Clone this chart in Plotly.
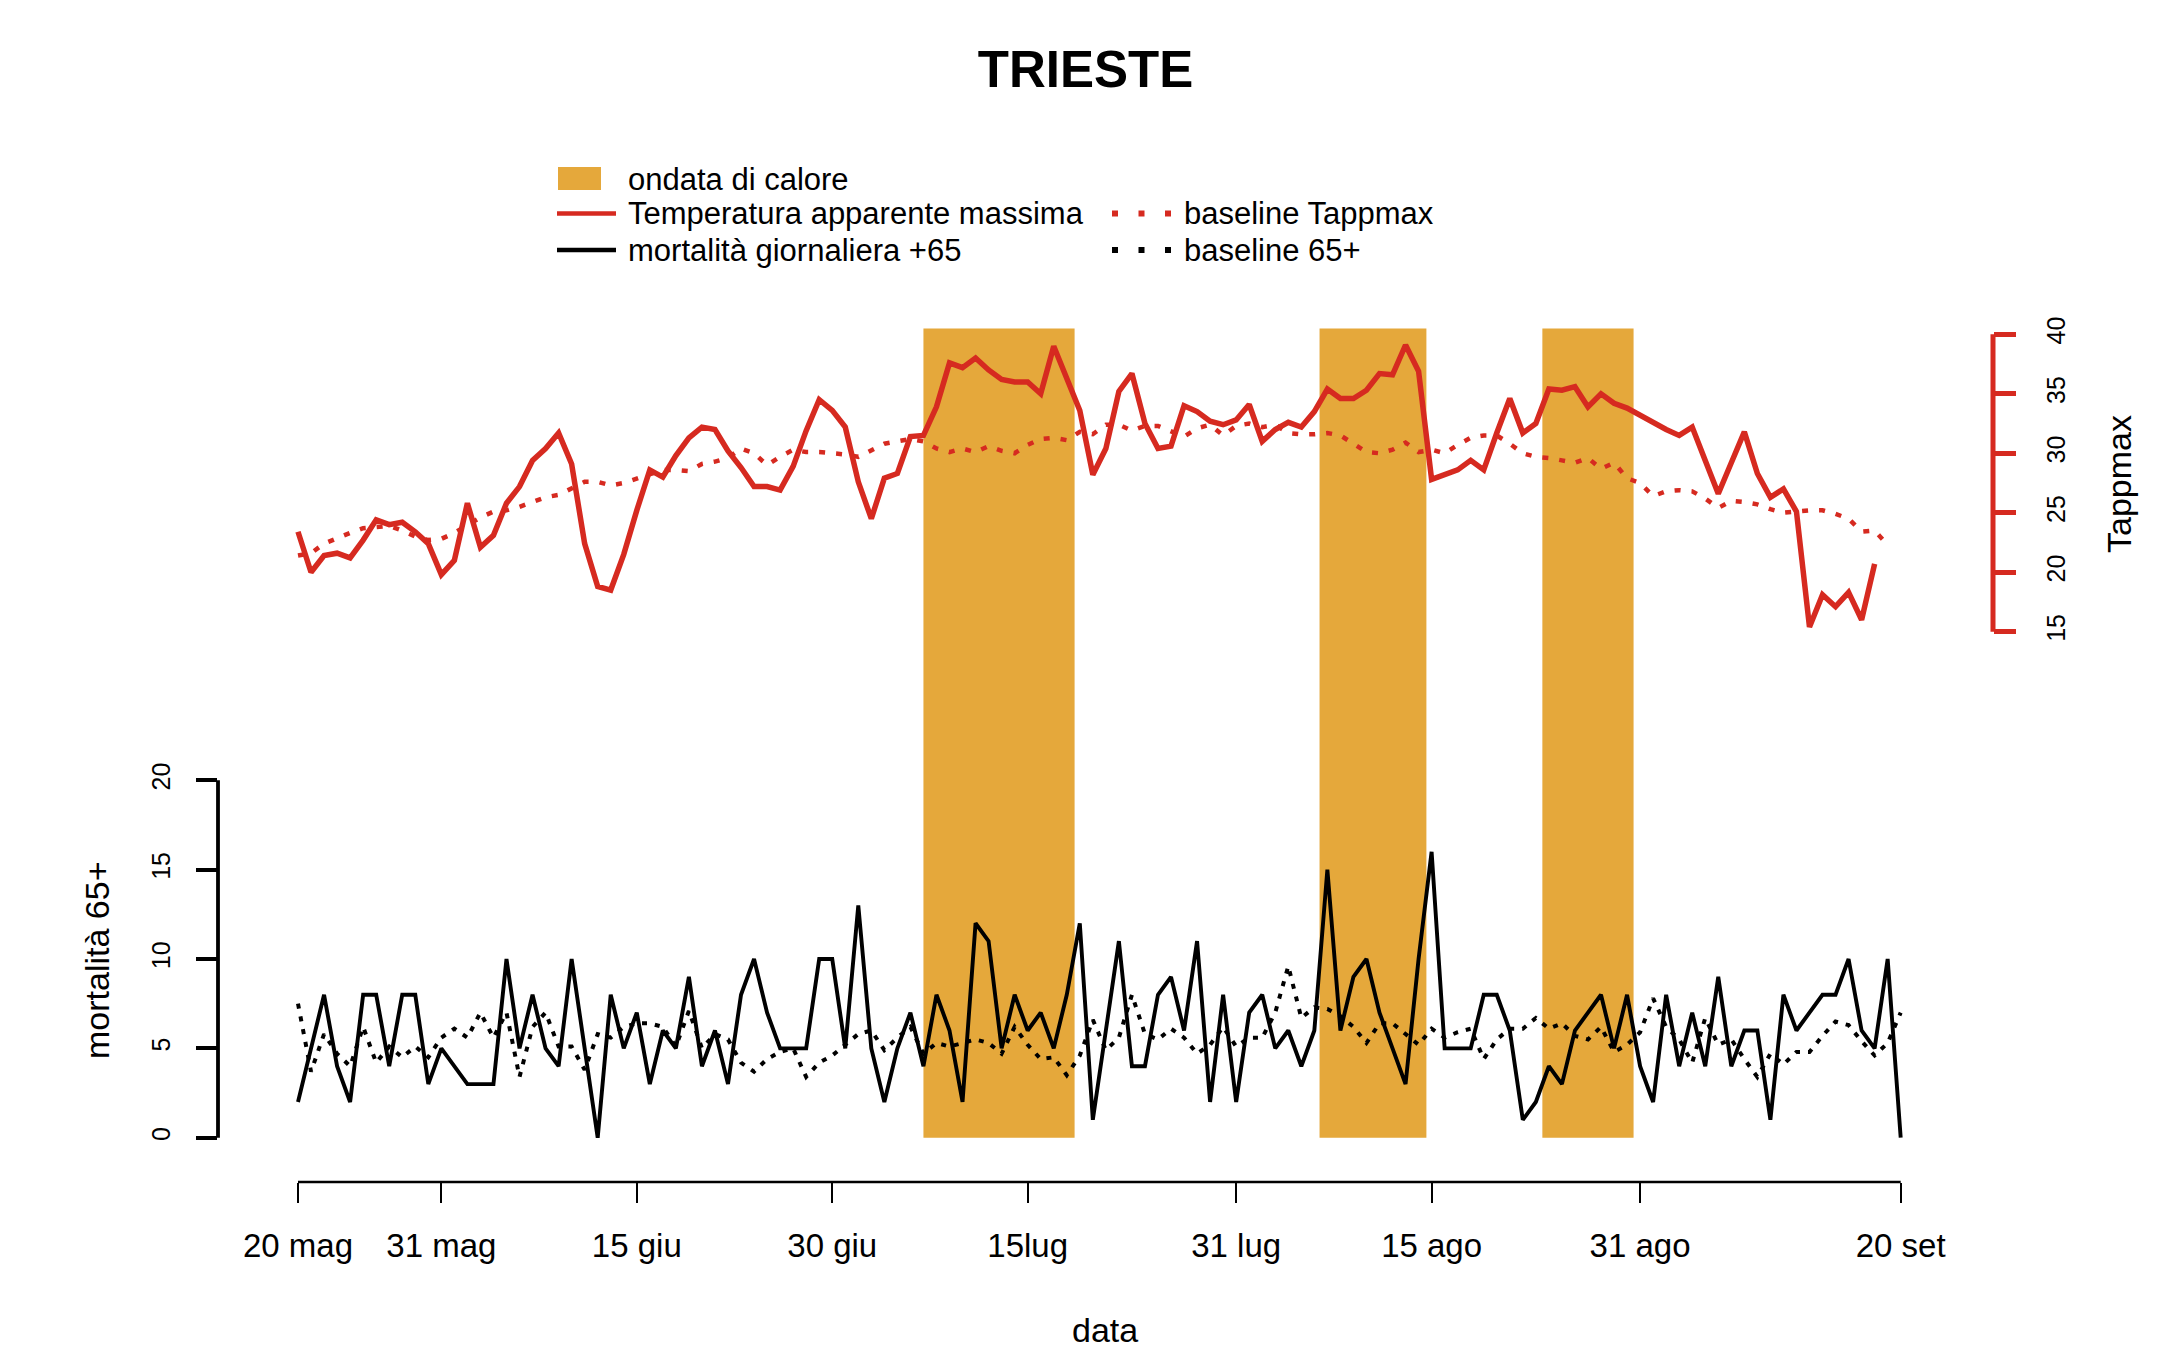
import pandas as pd
import plotly.graph_objects as go

# ---------------- data ----------------
start_date = "2015-05-20"

mortality_65 = [2, 5, 8, 4, 2, 8, 8, 4, 8, 8,
                3, 5, 4, 3, 3, 3, 10, 5, 8, 5,
                4, 10, 5, 0, 8, 5, 7, 3, 6, 5,
                9, 4, 6, 3, 8, 10, 7, 5, 5, 5,
                10, 10, 5, 13, 5, 2, 5, 7, 4, 8,
                6, 2, 12, 11, 5, 8, 6, 7, 5, 8,
                12, 1, 6, 11, 4, 4, 8, 9, 6, 11,
                2, 8, 2, 7, 8, 5, 6, 4, 6, 15,
                6, 9, 10, 7, 5, 3, 10, 16, 5, 5,
                5, 8, 8, 6, 1, 2, 4, 3, 6, 7,
                8, 5, 8, 4, 2, 8, 4, 7, 4, 9,
                4, 6, 6, 1, 8, 6, 7, 8, 8, 10,
                6, 5, 10, 0]

baseline_65 = [7.5, 3.7, 5.8, 4.7, 4.0, 6.2, 4.2, 5.1, 4.5, 5.1,
               4.5, 5.6, 6.1, 5.6, 7.0, 5.6, 7.0, 3.4, 6.2, 7.0,
               5.1, 5.1, 3.8, 5.8, 5.6, 6.2, 6.4, 6.4, 6.2, 5.1,
               7.1, 5.0, 5.8, 5.5, 4.2, 3.7, 4.4, 4.8, 5.0, 3.4,
               4.2, 4.6, 5.2, 5.8, 6.0, 4.9, 5.6, 6.2, 4.7, 5.3,
               5.1, 5.3, 5.5, 5.3, 4.7, 6.2, 5.2, 4.4, 4.5, 3.5,
               4.6, 6.6, 4.9, 5.6, 8.0, 5.8, 5.5, 6.1, 5.6, 4.7,
               5.2, 6.2, 5.1, 5.6, 5.6, 7.0, 9.6, 6.7, 7.3, 7.2,
               6.8, 6.2, 5.3, 6.4, 6.4, 5.8, 5.2, 6.1, 5.6, 5.9,
               6.1, 4.4, 5.5, 6.1, 6.1, 6.7, 6.1, 6.4, 5.7, 5.5,
               6.2, 4.8, 5.2, 5.9, 7.8, 6.2, 5.5, 4.2, 6.7, 5.2,
               5.5, 4.4, 3.4, 4.7, 4.1, 4.8, 4.8, 5.7, 6.5, 6.3,
               5.4, 4.6, 5.3, 7.0]

tappmax = [23.4, 20.0, 21.4, 21.6, 21.2, 22.7, 24.4, 24.0, 24.2, 23.4,
           22.4, 19.8, 21.0, 25.8, 22.1, 23.1, 25.8, 27.2, 29.4, 30.4,
           31.7, 29.1, 22.4, 18.8, 18.5, 21.5, 25.2, 28.6, 28.0, 29.8,
           31.3, 32.2, 32.0, 30.2, 28.8, 27.2, 27.2, 26.9, 28.9, 31.9,
           34.5, 33.6, 32.2, 27.6, 24.5, 27.9, 28.3, 31.4, 31.5, 33.9,
           37.6, 37.2, 38.0, 37.0, 36.2, 36.0, 36.0, 35.0, 39.0, 36.4,
           33.6, 28.2, 30.4, 35.2, 36.7, 32.5, 30.4, 30.6, 34.0, 33.5,
           32.7, 32.4, 32.8, 34.1, 31.0, 32.0, 32.6, 32.2, 33.5, 35.4,
           34.6, 34.6, 35.3, 36.7, 36.6, 39.1, 36.9, 27.8, 28.2, 28.6,
           29.4, 28.6, 31.7, 34.6, 31.7, 32.5, 35.4, 35.3, 35.6, 33.9,
           35.0, 34.2, 33.8, 33.2, 32.5, 32.0, 31.5, 32.2, 29.4, 26.6,
           29.2, 31.8, 28.3, 26.3, 27.0, 25.1, 15.4, 18.1, 17.1, 18.3,
           16.0, 20.7]

baseline_tappmax = [21.4, 21.6, 22.4, 22.9, 23.3, 23.7, 23.8, 23.9, 23.5, 23.0,
                    22.7, 22.8, 23.3, 24.0, 24.6, 25.1, 25.2, 25.5, 25.9, 26.3,
                    26.5, 27.0, 27.6, 27.6, 27.3, 27.5, 27.9, 28.3, 28.6, 28.6,
                    28.5, 29.1, 29.3, 29.6, 30.4, 30.0, 29.0, 29.7, 30.3, 30.1,
                    30.1, 30.0, 29.9, 29.7, 30.3, 30.8, 31.0, 31.2, 31.0, 30.4,
                    30.1, 30.4, 30.1, 30.6, 30.2, 30.0, 30.7, 31.2, 31.3, 31.1,
                    31.8, 31.6, 32.4, 32.4, 31.9, 32.3, 32.3, 31.8, 31.4, 32.1,
                    32.4, 31.5, 32.3, 32.5, 32.2, 32.4, 31.7, 31.6, 31.6, 31.7,
                    31.5, 30.8, 30.1, 30.0, 30.3, 30.9, 30.1, 30.3, 30.0, 30.7,
                    31.3, 31.5, 31.5, 30.8, 30.0, 29.7, 29.6, 29.4, 29.2, 29.6,
                    28.7, 29.2, 27.9, 27.5, 26.4, 26.8, 26.9, 26.8, 26.2, 25.4,
                    26.0, 25.9, 25.7, 25.3, 25.0, 25.1, 25.2, 25.2, 24.9, 24.5,
                    23.4, 23.5, 22.3]

heatwave_start = ["2015-07-07 00:00", "2015-08-06 09:36", "2015-08-23 12:00"]
heatwave_end = ["2015-07-18 14:24", "2015-08-14 14:24", "2015-08-30 12:00"]

tick_dates = ["2015-05-20", "2015-05-31", "2015-06-15", "2015-06-30", "2015-07-15",
              "2015-07-31", "2015-08-15", "2015-08-31", "2015-09-20"]
tick_labels = ["20 mag", "31 mag", "15 giu", "30 giu", "15lug",
               "31 lug", "15 ago", "31 ago", "20 set"]
mort_ticks = [0, 5, 10, 15, 20]
temp_ticks = [15, 20, 25, 30, 35, 40]

# ---------------- layout geometry (pixels) ----------------
W, H = 2165, 1357
PL, PR, PT, PB = 218, 1993, 300, 1182
D0_PX, DAY_PX = 298.0, 13.03          # x pixel of first day, pixels per day
M0_PX, M_UNIT = 1137.7, 17.87         # mortality 0 pixel, px per unit
T15_PX, T_UNIT = 631.7, 11.896        # Tappmax 15 pixel, px per degree
BAND_TOP = 45.28                       # band top in mortality units

RED = "#D62A20"
ORANGE = "#E5A83B"
FONT = "Liberation Sans, Arial, sans-serif"


def pxx(px):
    return (px - PL) / (PR - PL)


def pxy(py):
    return (PB - py) / (PB - PT)


start = pd.Timestamp(start_date)
dates_m = pd.date_range(start, periods=len(mortality_65), freq="D")
dates_t = pd.date_range(start, periods=len(tappmax), freq="D")
dates_bt = pd.date_range(start, periods=len(baseline_tappmax), freq="D")

xr0 = start + pd.Timedelta(days=(PL - D0_PX) / DAY_PX)
xr1 = start + pd.Timedelta(days=(PR - D0_PX) / DAY_PX)
yr1 = [-(PB - M0_PX) / M_UNIT, (M0_PX - PT) / M_UNIT]
yr2 = [15 - (PB - T15_PX) / T_UNIT, 15 + (T15_PX - PT) / T_UNIT]

fig = go.Figure()

# heat-wave bands
bx, by = [], []
for s, e in zip(heatwave_start, heatwave_end):
    bx += [s, s, e, e, s, None]
    by += [0, BAND_TOP, BAND_TOP, 0, 0, None]
fig.add_trace(go.Scatter(x=bx, y=by, fill="toself", fillcolor=ORANGE,
                         mode="lines", line=dict(width=0, color=ORANGE),
                         hoverinfo="skip", showlegend=False, yaxis="y"))

# mortality
fig.add_trace(go.Scatter(x=dates_m, y=baseline_65, mode="lines",
                         line=dict(color="black", width=4, dash="5px,8px"),
                         showlegend=False, yaxis="y"))
fig.add_trace(go.Scatter(x=dates_m, y=mortality_65, mode="lines",
                         line=dict(color="black", width=3.9),
                         showlegend=False, yaxis="y"))

# temperature
fig.add_trace(go.Scatter(x=dates_bt, y=baseline_tappmax, mode="lines",
                         line=dict(color=RED, width=4.5, dash="6px,11px"),
                         showlegend=False, yaxis="y2"))
fig.add_trace(go.Scatter(x=dates_t, y=tappmax, mode="lines",
                         line=dict(color=RED, width=5.5),
                         showlegend=False, yaxis="y2"))

shapes = [
    # axis lines spanning tick range only
    dict(type="line", xref="x", yref="paper", x0=tick_dates[0], x1=tick_dates[-1],
         y0=0, y1=0, line=dict(color="black", width=2.6)),
    dict(type="line", xref="paper", yref="y", x0=0, x1=0, y0=mort_ticks[0],
         y1=mort_ticks[-1], line=dict(color="black", width=3.8)),
    dict(type="line", xref="paper", yref="y2", x0=1, x1=1, y0=temp_ticks[0],
         y1=temp_ticks[-1], line=dict(color=RED, width=5)),
    # legend symbols
    dict(type="rect", xref="paper", yref="paper", x0=pxx(558), x1=pxx(601),
         y0=pxy(190), y1=pxy(167), fillcolor=ORANGE, line=dict(width=0)),
    dict(type="line", xref="paper", yref="paper", x0=pxx(557), x1=pxx(616),
         y0=pxy(213.5), y1=pxy(213.5), line=dict(color=RED, width=4.5)),
    dict(type="line", xref="paper", yref="paper", x0=pxx(557), x1=pxx(616),
         y0=pxy(250), y1=pxy(250), line=dict(color="black", width=4.5)),
    dict(type="line", xref="paper", yref="paper", x0=pxx(1112), x1=pxx(1172),
         y0=pxy(213.5), y1=pxy(213.5), line=dict(color=RED, width=6, dash="6px,20.5px")),
    dict(type="line", xref="paper", yref="paper", x0=pxx(1112), x1=pxx(1172),
         y0=pxy(250), y1=pxy(250), line=dict(color="black", width=6, dash="6px,20.5px")),
]

annotations = []
leg_font = dict(family=FONT, size=31, color="black")
for txt, lx, ly in [("ondata di calore", 626, 179),
                    ("Temperatura apparente massima", 626, 214),
                    ("mortalità giornaliera +65", 626, 250),
                    ("baseline Tappmax", 1182, 214),
                    ("baseline 65+", 1182, 250)]:
    annotations.append(dict(text=txt, xref="paper", yref="paper", x=pxx(lx), y=pxy(ly),
                            xanchor="left", yanchor="middle", showarrow=False,
                            font=leg_font))

title_font = dict(family=FONT, size=34, color="black")
annotations += [
    dict(text="mortalità 65+", xref="paper", yref="paper", x=pxx(97), y=pxy(960),
         textangle=-90, showarrow=False, xanchor="center", yanchor="middle", font=title_font),
    dict(text="Tappmax", xref="paper", yref="paper", x=pxx(2119), y=pxy(484),
         textangle=-90, showarrow=False, xanchor="center", yanchor="middle", font=title_font),
    dict(text="data", xref="paper", yref="paper", x=pxx(1105), y=pxy(1330),
         showarrow=False, xanchor="center", yanchor="middle", font=title_font),
]

fig.update_layout(
    width=W, height=H,
    margin=dict(l=PL, r=W - PR, t=PT, b=H - PB, pad=0, autoexpand=False),
    paper_bgcolor="white", plot_bgcolor="white",
    showlegend=False,
    font=dict(family=FONT, color="black"),
    title=dict(text="<b>TRIESTE</b>", xref="container", yref="container",
               x=1085.5 / W, y=1 - 68.7 / H, xanchor="center", yanchor="middle",
               font=dict(family=FONT, size=51, color="black")),
    xaxis=dict(type="date", range=[str(xr0), str(xr1)], tickvals=tick_dates,
               ticktext=tick_labels, ticks="outside", ticklen=20, tickwidth=2.4,
               tickcolor="black", showline=False, showgrid=False, zeroline=False,
               tickfont=dict(family=FONT, size=33, color="black"),
               ticklabelstandoff=14, automargin=False),
    yaxis=dict(range=yr1, tickvals=mort_ticks, ticks="outside", ticklen=21,
               tickwidth=3.5, tickcolor="black", tickangle=-90, showline=False,
               showgrid=False, zeroline=False,
               tickfont=dict(family=FONT, size=25, color="black"),
               ticklabelstandoff=16, automargin=False),
    yaxis2=dict(range=yr2, overlaying="y", side="right", tickvals=temp_ticks,
                ticks="outside", ticklen=22, tickwidth=5, tickcolor=RED,
                tickangle=-90, showline=False, showgrid=False, zeroline=False,
                tickfont=dict(family=FONT, size=25, color="black"),
                ticklabelstandoff=19, automargin=False),
    shapes=shapes,
    annotations=annotations,
)

fig.write_html("out.html", config={"displayModeBar": False})
